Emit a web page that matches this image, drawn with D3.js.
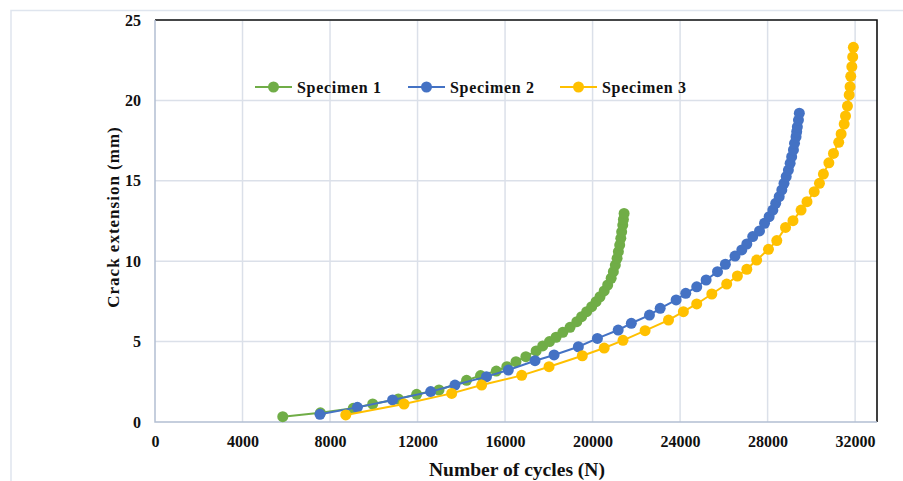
<!DOCTYPE html>
<html><head><meta charset="utf-8">
<script src="https://cdn.jsdelivr.net/npm/d3@7"></script>
<style>body{margin:0;background:#fff}svg{display:block}</style>
</head><body>
<svg id="c" width="903" height="481"></svg>
<script>
const seriesNames = ["Specimen 1", "Specimen 2", "Specimen 3"];
const seriesColors = ["#70AD47", "#4472C4", "#FFC000"];
const cycles1 = [5840,7560,9060,9950,11120,11960,12980,14240,14880,15600,16080,16500,16950,17420,17720,18030,18330,18640,18970,19280,19500,19730,19960,20160,20340,20530,20690,20850,20950,21040,21120,21180,21240,21290,21330,21380,21410,21440];
const crack1 = [0.33,0.57,0.85,1.12,1.43,1.72,1.99,2.59,2.89,3.17,3.44,3.75,4.06,4.42,4.73,5.0,5.27,5.58,5.89,6.24,6.55,6.86,7.17,7.48,7.79,8.15,8.52,8.94,9.35,9.76,10.18,10.59,11.0,11.42,11.83,12.25,12.6,12.97];
const cycles2 = [7540,9250,10860,12600,13710,15150,16150,17370,18240,19350,20220,21170,21770,22600,23090,23820,24260,24760,25190,25710,26070,26510,26820,27050,27320,27630,27860,28070,28240,28370,28530,28650,28750,28850,28950,29030,29100,29180,29230,29300,29330,29360,29410,29450];
const crack2 = [0.48,0.91,1.37,1.89,2.3,2.82,3.23,3.81,4.17,4.68,5.2,5.72,6.14,6.65,7.07,7.59,8.0,8.41,8.83,9.35,9.81,10.32,10.7,11.07,11.53,11.88,12.36,12.77,13.18,13.6,14.01,14.43,14.84,15.26,15.67,16.09,16.5,16.92,17.33,17.74,18.05,18.36,18.78,19.2];
const cycles3 = [8720,11380,13560,14930,16760,18010,19530,20530,21390,22400,23470,24150,24760,25450,26130,26620,27050,27500,28040,28420,28820,29160,29530,29800,30130,30370,30550,30800,31010,31250,31360,31500,31560,31650,31730,31770,31800,31850,31890,31920];
const crack3 = [0.44,1.12,1.78,2.3,2.9,3.44,4.12,4.6,5.08,5.68,6.34,6.86,7.34,7.96,8.58,9.08,9.5,10.07,10.74,11.28,12.1,12.52,13.18,13.7,14.32,14.84,15.42,16.12,16.7,17.39,17.91,18.53,19.03,19.65,20.34,20.85,21.5,22.1,22.7,23.3];
const xTicks = [0,4000,8000,12000,16000,20000,24000,28000,32000];
const yTicks = [0,5,10,15,20,25];
const xTitle = "Number of cycles (N)";
const yTitle = "Crack extension (mm)";

const svg = d3.select("#c");
const L = 155, R = 877, T = 20, B = 422;
const x = d3.scaleLinear().domain([0, 33000]).range([L, R]);
const y = d3.scaleLinear().domain([0, 25]).range([B, T]);
const serif = "'Liberation Serif','Times New Roman',serif";

// outer frame
svg.append("path").attr("d", "M11,481 V10.5 H903").attr("fill","none").attr("stroke","#dfe5ee").attr("stroke-width",1.5);

// gridlines
svg.append("g").selectAll("line").data(xTicks.slice(1)).join("line")
  .attr("x1", d=>x(d)).attr("x2", d=>x(d)).attr("y1", T).attr("y2", B)
  .attr("stroke","#dbe0e9").attr("stroke-width",1.5);
svg.append("g").selectAll("line").data(yTicks.slice(1)).join("line")
  .attr("x1", L).attr("x2", R).attr("y1", d=>y(d)).attr("y2", d=>y(d))
  .attr("stroke","#dbe0e9").attr("stroke-width",1.5);

// border: top/right black, left/bottom blue-gray
svg.append("path").attr("d", `M${L},${T} H${R} V${B}`).attr("fill","none").attr("stroke","#111").attr("stroke-width",1.6);
svg.append("path").attr("d", `M${L},${T} V${B} H${R}`).attr("fill","none").attr("stroke","#b3bfd2").attr("stroke-width",1.5);

// axes via d3
const xAxis = svg.append("g").attr("transform", `translate(0,${B})`)
  .call(d3.axisBottom(x).tickValues(xTicks).tickFormat(d3.format("d")).tickSize(0).tickPadding(14));
const yAxis = svg.append("g").attr("transform", `translate(${L},0)`)
  .call(d3.axisLeft(y).tickValues(yTicks).tickSize(0).tickPadding(14));
[xAxis, yAxis].forEach(g => {
  g.select(".domain").remove();
  g.selectAll("text").attr("font-family", serif).attr("font-weight","bold").attr("font-size", 16).attr("fill","#111");
});

// titles
svg.append("text").attr("x", 517).attr("y", 476).attr("text-anchor","middle")
  .attr("textLength", 176).attr("lengthAdjust","spacingAndGlyphs")
  .attr("font-family", serif).attr("font-weight","bold").attr("font-size", 19).attr("fill","#111").text(xTitle);
svg.append("text").attr("transform", `translate(119,217) rotate(-90)`).attr("text-anchor","middle")
  .attr("letter-spacing", 1)
  .attr("font-family", serif).attr("font-weight","bold").attr("font-size", 17).attr("fill","#111").text(yTitle);

// series
const data = [
  cycles1.map((c,i)=>[c, crack1[i]]),
  cycles2.map((c,i)=>[c, crack2[i]]),
  cycles3.map((c,i)=>[c, crack3[i]])
];
const line = d3.line().x(d=>x(d[0])).y(d=>y(d[1]));
data.forEach((pts, k) => {
  const g = svg.append("g");
  g.append("path").attr("d", line(pts)).attr("fill","none").attr("stroke", seriesColors[k]).attr("stroke-width", 2);
  g.selectAll("circle").data(pts).join("circle")
    .attr("cx", d=>x(d[0])).attr("cy", d=>y(d[1])).attr("r", 5.5).attr("fill", seriesColors[k]);
});

// legend
const legX = [255, 408, 560];
seriesNames.forEach((n, k) => {
  const g = svg.append("g").attr("transform", `translate(${legX[k]},87)`);
  g.append("line").attr("x1",0).attr("x2",37).attr("stroke", seriesColors[k]).attr("stroke-width",2);
  g.append("circle").attr("cx",18.5).attr("r",5.5).attr("fill", seriesColors[k]);
  g.append("text").attr("x",42).attr("y",5.5).attr("font-family", serif).attr("font-weight","bold")
    .attr("letter-spacing", 0.7).attr("font-size",16).attr("fill","#111").text(n);
});
</script>
</body></html>
